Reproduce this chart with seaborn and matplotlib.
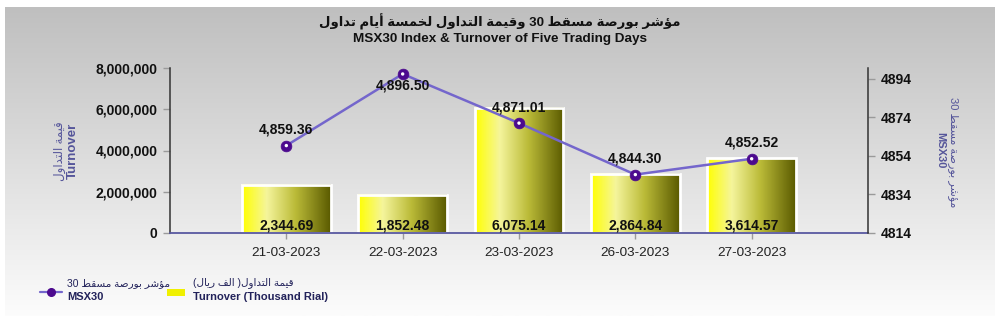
import re
import numpy as np
import pandas as pd
import seaborn as sns
import matplotlib
matplotlib.use("Agg")
import matplotlib.pyplot as plt
from matplotlib.colors import LinearSegmentedColormap
from matplotlib.lines import Line2D
from matplotlib.patches import Rectangle
from matplotlib.ticker import FuncFormatter

# ---------------- data ----------------
dates = ["21-03-2023", "22-03-2023", "23-03-2023", "26-03-2023", "27-03-2023"]
turnover_thousand = [2344.69, 1852.48, 6075.14, 2864.84, 3614.57]
msx30 = [4859.36, 4896.50, 4871.01, 4844.30, 4852.52]
left_ticks = [0, 2000000, 4000000, 6000000, 8000000]
right_ticks = [4814, 4834, 4854, 4874, 4894]

title_ar = "مؤشر بورصة مسقط 30 وقيمة التداول لخمسة أيام تداول"
title_en = "MSX30 Index & Turnover of Five Trading Days"
ylabel_left_ar = "قيمة التداول"
ylabel_left_en = "Turnover"
ylabel_right_ar = "مؤشر بورصة مسقط 30"
ylabel_right_en = "MSX30"
legend_line_ar = "مؤشر بورصة مسقط 30"
legend_line_en = "MSX30"
legend_bar_ar = "قيمة التداول( الف ريال)"
legend_bar_en = "Turnover (Thousand Rial)"

# ---------------- Arabic shaping (presentation forms + RTL order) ----------------
F = {
    'ا': ('\uFE8D', '\uFE8E', None, None),
    'أ': ('\uFE83', '\uFE84', None, None),
    'ؤ': ('\uFE85', '\uFE86', None, None),
    'ب': ('\uFE8F', '\uFE90', '\uFE91', '\uFE92'),
    'ة': ('\uFE93', '\uFE94', None, None),
    'ت': ('\uFE95', '\uFE96', '\uFE97', '\uFE98'),
    'خ': ('\uFEA5', '\uFEA6', '\uFEA7', '\uFEA8'),
    'د': ('\uFEA9', '\uFEAA', None, None),
    'ر': ('\uFEAD', '\uFEAE', None, None),
    'س': ('\uFEB1', '\uFEB2', '\uFEB3', '\uFEB4'),
    'ش': ('\uFEB5', '\uFEB6', '\uFEB7', '\uFEB8'),
    'ص': ('\uFEB9', '\uFEBA', '\uFEBB', '\uFEBC'),
    'ط': ('\uFEC1', '\uFEC2', '\uFEC3', '\uFEC4'),
    'ف': ('\uFED1', '\uFED2', '\uFED3', '\uFED4'),
    'ق': ('\uFED5', '\uFED6', '\uFED7', '\uFED8'),
    'ل': ('\uFEDD', '\uFEDE', '\uFEDF', '\uFEE0'),
    'م': ('\uFEE1', '\uFEE2', '\uFEE3', '\uFEE4'),
    'و': ('\uFEED', '\uFEEE', None, None),
    'ي': ('\uFEF1', '\uFEF2', '\uFEF3', '\uFEF4'),
}
LAM_ALEF = {'ا': ('\uFEFB', '\uFEFC'), 'أ': ('\uFEF7', '\uFEF8')}


def _dual(c):
    return c in F and F[c][2] is not None


def shape(s):
    chars = list(s)
    n = len(chars)
    out = []
    i = 0
    while i < n:
        c = chars[i]
        prev = chars[i - 1] if i > 0 else ''
        if c == 'ل' and i + 1 < n and chars[i + 1] in LAM_ALEF:
            lig = LAM_ALEF[chars[i + 1]]
            out.append(lig[1] if _dual(prev) else lig[0])
            i += 2
            continue
        if c in F:
            nxt = chars[i + 1] if i + 1 < n else ''
            jp = _dual(prev)
            jn = _dual(c) and nxt in F
            iso, fin, ini, med = F[c]
            out.append(med if (jp and jn) else fin if jp else ini if jn else iso)
        else:
            out.append(c)
        i += 1
    vis = ''.join(out)[::-1]
    vis = re.sub(r'[0-9]+', lambda m: m.group(0)[::-1], vis)
    return vis.translate(str.maketrans('()', ')('))


# ---------------- style ----------------
sns.set_theme(style="white")
plt.rcParams['font.family'] = ['Liberation Sans', 'DejaVu Sans']

W, H = 1000, 324
fig = plt.figure(figsize=(W / 100, H / 100), dpi=100)
fig.patch.set_facecolor('white')

# background gradient panel
bg = fig.add_axes([5 / W, 1 - 316 / H, 990 / W, 309 / H], zorder=-10)
bg_cmap = LinearSegmentedColormap.from_list('bg', ['#fcfcfc', '#bfbfbf'])
bg.imshow(np.linspace(0, 1, 256).reshape(-1, 1)[::-1], aspect='auto', cmap=bg_cmap,
          extent=[0, 1, 0, 1])
bg.axis('off')

ax = fig.add_axes([170 / W, 1 - 233 / H, 698 / W, 165 / H])
ax.set_facecolor('none')

df = pd.DataFrame({"date": dates, "turnover": np.array(turnover_thousand) * 1000})
sns.barplot(data=df, x="date", y="turnover", ax=ax, width=0.76, color='#ffff00',
            edgecolor='white', linewidth=2)

bar_cmap = LinearSegmentedColormap.from_list(
    'bar', [(0, '#ffff00'), (0.28, '#f5f59c'), (0.6, '#bbbb38'), (1, '#5a5a00')])
grad = np.linspace(0, 1, 256).reshape(1, -1)
for p in ax.patches:
    x0, y0 = p.get_x(), p.get_y()
    w, h = p.get_width(), p.get_height()
    ax.imshow(grad, extent=[x0, x0 + w, y0, y0 + h], aspect='auto', cmap=bar_cmap,
              zorder=1.5, interpolation='bilinear')
    p.set_facecolor('none')
    p.set_zorder(2)

ax.set_xlim(-1, 5)
ax.set_ylim(0, 8000000)
ax.set_yticks(left_ticks)
ax.yaxis.set_major_formatter(FuncFormatter(lambda v, _: f"{int(v):,}"))
ax.set_xlabel("")
ax.set_ylabel("")

for lbl in ax.get_yticklabels():
    lbl.set_fontweight('bold')
ax.tick_params(axis='y', labelsize=10, length=5, color='#9a9a9a', width=1,
               labelcolor='#111111', pad=4, left=True)
ax.tick_params(axis='x', labelsize=9.7, length=4, color='#9a9a9a', width=1,
               labelcolor='#222222', pad=6, bottom=True)

for sp in ['top', 'right']:
    ax.spines[sp].set_visible(False)
ax.spines['left'].set_color('#333333')
ax.spines['left'].set_linewidth(1.1)
ax.spines['bottom'].set_color('#5858a0')
ax.spines['bottom'].set_linewidth(1.3)

# bar value labels
for i, v in enumerate(turnover_thousand):
    ax.annotate(f"{v:,.2f}", (i, 0), xytext=(0, 5.5), textcoords='offset points',
                ha='center', va='center', fontsize=10, fontweight='bold',
                color='#111111', zorder=5)

# line on secondary axis
ax2 = ax.twinx()
ax2.set_facecolor('none')
xs = np.arange(len(msx30))
sns.lineplot(x=xs, y=msx30, ax=ax2, color='#7466cc', linewidth=1.8, zorder=3)
sns.scatterplot(x=xs, y=msx30, ax=ax2, s=60, color='#4c0a8e', edgecolor='#4c0a8e',
                linewidth=0.5, zorder=4)
sns.scatterplot(x=xs, y=msx30, ax=ax2, s=6, color='white', edgecolor='none',
                zorder=5)
ax2.set_xlim(-1, 5)
ax2.set_ylim(4814, 4899.6)
ax2.set_yticks(right_ticks)
ax2.set_yticklabels([str(t) for t in right_ticks], fontweight='bold')
ax2.tick_params(axis='y', labelsize=10, length=5, color='#9a9a9a', width=1,
                labelcolor='#111111', pad=4, right=True)
for sp in ['top', 'left', 'bottom']:
    ax2.spines[sp].set_visible(False)
ax2.spines['right'].set_color('#333333')
ax2.spines['right'].set_linewidth(1.1)

top_lim = ax2.get_ylim()[1]
for i, v in enumerate(msx30):
    dy = -8 if v > top_lim - 10 else 11.5
    ax2.annotate(f"{v:,.2f}", (i, v), xytext=(0, dy), textcoords='offset points',
                 ha='center', va='center', fontsize=10, fontweight='bold',
                 color='#111111', zorder=6)

# titles
fig.text(0.5, 1 - 22 / H, shape(title_ar), ha='center', va='center', fontsize=9.5,
         fontweight='bold', color='#111111')
fig.text(0.5, 1 - 39 / H, title_en, ha='center', va='center', fontsize=9.7,
         fontweight='bold', color='#111111')

# axis labels
lab_col = '#55559a'
fig.text(60 / W, 1 - 151 / H, shape(ylabel_left_ar), rotation=90, ha='center',
         va='center', fontsize=8.5, color=lab_col)
fig.text(73 / W, 1 - 151 / H, ylabel_left_en, rotation=90, ha='center', va='center',
         fontsize=9.5, fontweight='bold', color=lab_col)
fig.text(953 / W, 1 - 152 / H, shape(ylabel_right_ar), rotation=270, ha='center',
         va='center', fontsize=8, color=lab_col)
fig.text(940 / W, 1 - 150 / H, ylabel_right_en, rotation=270, ha='center',
         va='center', fontsize=8, fontweight='bold', color=lab_col)

# legend (manual)
leg_col = '#22225a'
fig.add_artist(Line2D([40 / W, 62 / W], [1 - 292 / H] * 2, color='#7466cc', lw=1.6,
                      transform=fig.transFigure))
fig.add_artist(Line2D([51 / W], [1 - 292 / H], marker='o', markersize=5.5,
                      color='#4c0a8e', transform=fig.transFigure))
fig.text(67 / W, 1 - 283 / H, shape(legend_line_ar), ha='left', va='center',
         fontsize=7.5, color=leg_col)
fig.text(67 / W, 1 - 297 / H, legend_line_en, ha='left', va='center', fontsize=8,
         fontweight='bold', color=leg_col)
fig.add_artist(Rectangle((167 / W, 1 - 296 / H), 18 / W, 7 / H, facecolor='#f0f000',
                         edgecolor='none', transform=fig.transFigure))
fig.text(193 / W, 1 - 283 / H, shape(legend_bar_ar), ha='left', va='center',
         fontsize=7.5, color=leg_col)
fig.text(193 / W, 1 - 297 / H, legend_bar_en, ha='left', va='center', fontsize=8,
         fontweight='bold', color=leg_col)

fig.savefig("out.png", dpi=100)
